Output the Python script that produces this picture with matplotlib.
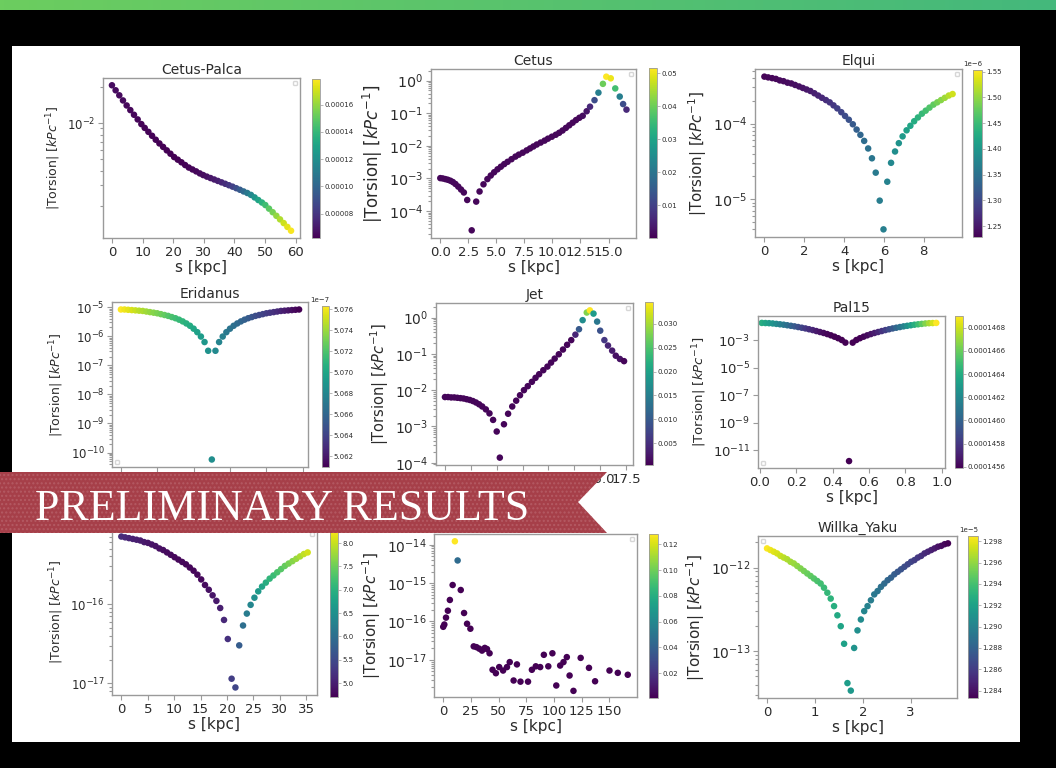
import numpy as np
import matplotlib.pyplot as plt
from matplotlib.colors import LinearSegmentedColormap
from matplotlib.patches import Rectangle, Polygon
from matplotlib.ticker import MultipleLocator, NullFormatter

W, H = 1056, 768

# ---------------- data (s in kpc, log10 |torsion|, colour value) ----------------
# Cetus-Palca
cp_s = [0.0, 1.2, 2.4, 3.6, 4.8, 6.0, 7.2, 8.4, 9.6, 10.7, 11.9, 13.1, 14.3, 15.5, 16.7,
        17.9, 19.1, 20.3, 21.5, 22.7, 23.9, 25.1, 26.3, 27.5, 28.7, 29.8, 31.0, 32.2, 33.4,
        34.6, 35.8, 37.0, 38.2, 39.4, 40.6, 41.8, 43.0, 44.2, 45.4, 46.6, 47.8, 49.0, 50.1,
        51.3, 52.5, 53.7, 54.9, 56.1, 57.3, 58.5]
cp_logt = [-1.684, -1.726, -1.768, -1.811, -1.853, -1.892, -1.931, -1.970, -2.009, -2.041,
           -2.074, -2.107, -2.140, -2.171, -2.200, -2.229, -2.257, -2.285, -2.307, -2.329,
           -2.352, -2.373, -2.389, -2.405, -2.422, -2.436, -2.449, -2.461, -2.473, -2.485,
           -2.497, -2.509, -2.521, -2.533, -2.546, -2.559, -2.573, -2.586, -2.602, -2.623,
           -2.645, -2.666, -2.687, -2.717, -2.747, -2.777, -2.807, -2.838, -2.870, -2.902]
cp_col = [6.6, 6.55, 6.5, 6.5, 6.45, 6.4, 6.4, 6.35, 6.3, 6.3, 6.3, 6.25, 6.25, 6.2, 6.2,
          6.2, 6.2, 6.2, 6.2, 6.2, 6.25, 6.3, 6.35, 6.4, 6.5, 6.6, 6.7, 6.85, 7.0, 7.2,
          7.45, 7.7, 8.0, 8.4, 8.9, 9.5, 10.2, 10.9, 11.6, 12.3, 13.0, 13.7, 14.3, 14.9,
          15.5, 16.0, 16.5, 17.0, 17.4, 17.8]  # x 1e-5

# Cetus
ce_s = [0.0, 0.22, 0.45, 0.67, 0.9, 1.12, 1.35, 1.6, 1.85, 2.1, 2.4, 2.8, 3.2, 3.5, 3.85,
        4.2, 4.5, 4.8, 5.1, 5.4, 5.7, 6.0, 6.35, 6.7, 7.0, 7.35, 7.7, 8.0, 8.3, 8.6, 8.95,
        9.3, 9.6, 9.95, 10.3, 10.6, 10.9, 11.2, 11.5, 11.8, 12.1, 12.4, 12.7, 13.05, 13.35,
        13.75, 14.1, 14.5, 14.8, 15.2, 15.6, 16.0, 16.3, 16.6]
ce_logt = [-2.99, -3.00, -3.02, -3.04, -3.07, -3.11, -3.17, -3.25, -3.34, -3.43, -3.66,
           -4.59, -3.71, -3.40, -3.18, -3.02, -2.91, -2.81, -2.72, -2.64, -2.56, -2.49,
           -2.41, -2.33, -2.27, -2.21, -2.14, -2.08, -2.02, -1.96, -1.90, -1.84, -1.78,
           -1.72, -1.66, -1.60, -1.53, -1.45, -1.37, -1.29, -1.21, -1.14, -1.08, -0.94,
           -0.80, -0.60, -0.37, -0.10, 0.12, 0.07, -0.24, -0.49, -0.72, -0.89]
ce_col = [0.001] * 42 + [0.002, 0.003, 0.006, 0.012, 0.022, 0.040, 0.0516, 0.050, 0.036,
                         0.022, 0.012, 0.006]

# Elqui
el_s = [0.0, 0.19, 0.39, 0.58, 0.77, 0.96, 1.16, 1.35, 1.54, 1.74, 1.93, 2.12, 2.31, 2.51,
        2.70, 2.89, 3.09, 3.28, 3.47, 3.66, 3.86, 4.05, 4.24, 4.44, 4.63, 4.82, 5.01, 5.21,
        5.40, 5.59, 5.79, 5.98, 6.17, 6.36, 6.56, 6.75, 6.94, 7.14, 7.33, 7.52, 7.71, 7.91,
        8.10, 8.29, 8.49, 8.68, 8.87, 9.06, 9.26, 9.45]
el_logt = [-3.38, -3.39, -3.40, -3.41, -3.43, -3.44, -3.46, -3.47, -3.49, -3.51, -3.53,
           -3.55, -3.57, -3.60, -3.63, -3.66, -3.69, -3.72, -3.76, -3.80, -3.85, -3.90,
           -3.95, -4.01, -4.08, -4.15, -4.23, -4.33, -4.46, -4.65, -5.02, -5.40, -4.77,
           -4.52, -4.37, -4.26, -4.17, -4.09, -4.03, -3.97, -3.92, -3.87, -3.83, -3.79,
           -3.75, -3.72, -3.69, -3.66, -3.63, -3.61]
el_col = [1.232, 1.233, 1.234, 1.235, 1.236, 1.237, 1.238, 1.240, 1.242, 1.244, 1.246,
          1.249, 1.252, 1.256, 1.260, 1.265, 1.270, 1.276, 1.282, 1.289, 1.296, 1.303,
          1.311, 1.319, 1.327, 1.335, 1.343, 1.350, 1.356, 1.361, 1.365, 1.368, 1.372,
          1.380, 1.388, 1.396, 1.404, 1.412, 1.420, 1.428, 1.437, 1.446, 1.455, 1.464,
          1.474, 1.484, 1.494, 1.505, 1.517, 1.530]  # x 1e-6

# Eridanus
er_s = [0.0, 0.1, 0.2, 0.3, 0.4, 0.5, 0.6, 0.7, 0.8, 0.9, 1.0, 1.1, 1.2, 1.3, 1.4, 1.5, 1.6,
        1.7, 1.8, 1.9, 2.0, 2.1, 2.2, 2.3, 2.4, 2.5, 2.6, 2.7, 2.8, 2.9, 3.0, 3.1, 3.2, 3.3,
        3.4, 3.5, 3.6, 3.7, 3.8, 3.9, 4.0, 4.1, 4.2, 4.3, 4.4, 4.5, 4.6, 4.7, 4.8, 4.9]
er_logt = [-5.08, -5.08, -5.09, -5.10, -5.11, -5.12, -5.13, -5.15, -5.17, -5.19, -5.21,
           -5.24, -5.27, -5.30, -5.34, -5.38, -5.43, -5.49, -5.56, -5.64, -5.74, -5.86,
           -6.01, -6.20, -6.50, -10.24, -6.50, -6.20, -6.01, -5.86, -5.74, -5.64, -5.56,
           -5.49, -5.43, -5.38, -5.34, -5.30, -5.27, -5.24, -5.21, -5.19, -5.17, -5.15,
           -5.13, -5.12, -5.11, -5.10, -5.09, -5.08]
er_col = [5.0763, 5.0760, 5.0757, 5.0754, 5.0751, 5.0747, 5.0744, 5.0741, 5.0738, 5.0735,
          5.0732, 5.0729, 5.0726, 5.0722, 5.0719, 5.0716, 5.0713, 5.0710, 5.0707, 5.0704,
          5.0701, 5.0697, 5.0694, 5.0691, 5.0688, 5.0685, 5.0682, 5.0679, 5.0676, 5.0672,
          5.0669, 5.0666, 5.0663, 5.0660, 5.0657, 5.0654, 5.0651, 5.0647, 5.0644, 5.0641,
          5.0638, 5.0635, 5.0632, 5.0629, 5.0626, 5.0622, 5.0619, 5.0616, 5.0613, 5.0610]  # x 1e-7

# Jet
jet_s = [0.0, 0.3, 0.6, 0.9, 1.2, 1.5, 1.8, 2.1, 2.4, 2.7, 3.0, 3.3, 3.6, 3.95, 4.3, 4.65,
         5.0, 5.3, 5.7, 6.1, 6.5, 6.88, 7.25, 7.63, 8.0, 8.4, 8.75, 9.1, 9.5, 9.9, 10.25,
         10.6, 11.0, 11.4, 11.8, 12.2, 12.6, 12.95, 13.3, 13.7, 14.0, 14.35, 14.7, 15.0,
         15.4, 15.75, 16.15, 16.5, 16.9, 17.3]
jet_logt = [-2.19, -2.19, -2.20, -2.20, -2.21, -2.22, -2.23, -2.25, -2.27, -2.30, -2.34,
            -2.39, -2.45, -2.53, -2.64, -2.82, -3.14, -3.86, -2.94, -2.65, -2.45, -2.29,
            -2.14, -2.00, -1.89, -1.77, -1.66, -1.56, -1.45, -1.35, -1.24, -1.13, -1.01,
            -0.88, -0.75, -0.62, -0.47, -0.32, -0.07, 0.14, 0.20, 0.11, -0.11, -0.36,
            -0.62, -0.77, -0.91, -1.05, -1.14, -1.20]
jet_col = [0.001] * 36 + [0.004, 0.010, 0.017, 0.028, 0.0345, 0.019, 0.014, 0.009, 0.006,
                          0.004, 0.003, 0.002, 0.002, 0.001]

# Pal15
pal_s = [0.01, 0.03, 0.05, 0.07, 0.09, 0.11, 0.13, 0.15, 0.17, 0.19, 0.21, 0.23, 0.25,
         0.27, 0.29, 0.31, 0.33, 0.35, 0.37, 0.39, 0.41, 0.43, 0.45, 0.47, 0.49, 0.51,
         0.53, 0.55, 0.57, 0.59, 0.61, 0.63, 0.65, 0.67, 0.69, 0.71, 0.73, 0.75, 0.77,
         0.79, 0.81, 0.83, 0.85, 0.87, 0.89, 0.91, 0.93, 0.95, 0.97]
pal_logt = [-1.75, -1.76, -1.77, -1.79, -1.82, -1.85, -1.88, -1.92, -1.96, -2.00, -2.05,
            -2.10, -2.15, -2.21, -2.27, -2.34, -2.41, -2.48, -2.56, -2.65, -2.75, -2.86,
            -2.99, -3.18, -11.77, -3.18, -2.99, -2.86, -2.75, -2.65, -2.56, -2.48, -2.41,
            -2.34, -2.27, -2.21, -2.15, -2.10, -2.05, -2.00, -1.96, -1.92, -1.88, -1.85,
            -1.82, -1.79, -1.77, -1.76, -1.75]
pal_col = [1.4640, 1.4636, 1.4632, 1.4627, 1.4622, 1.4617, 1.4612, 1.4607, 1.4601, 1.4596,
           1.4591, 1.4586, 1.4581, 1.4577, 1.4573, 1.4569, 1.4566, 1.4563, 1.4561, 1.4560,
           1.4559, 1.4559, 1.4559, 1.4559, 1.4559, 1.4559, 1.4559, 1.4560, 1.4561, 1.4563,
           1.4566, 1.4569, 1.4573, 1.4578, 1.4583, 1.4589, 1.4595, 1.4602, 1.4609, 1.4617,
           1.4625, 1.4633, 1.4641, 1.4649, 1.4657, 1.4665, 1.4673, 1.4681, 1.4690]  # x 1e-4
pal_yticks = [1e-11, 1e-9, 1e-7, 1e-5, 1e-3]

# bottom-left stream (title hidden by banner)
bl_s = [0.0, 0.72, 1.44, 2.16, 2.88, 3.6, 4.32, 5.04, 5.76, 6.48, 7.2, 7.92, 8.64, 9.36,
        10.08, 10.8, 11.52, 12.24, 12.96, 13.68, 14.4, 15.12, 15.84, 16.56, 17.28, 18.0,
        18.72, 19.44, 20.16, 20.88, 21.6, 22.32, 23.04, 23.76, 24.48, 25.2, 25.92, 26.64,
        27.36, 28.08, 28.8, 29.52, 30.24, 30.96, 31.68, 32.4, 33.12, 33.84, 34.56, 35.28]
bl_logt = [-15.15, -15.16, -15.17, -15.18, -15.19, -15.20, -15.22, -15.23, -15.25, -15.27,
           -15.30, -15.32, -15.35, -15.38, -15.41, -15.44, -15.47, -15.50, -15.54, -15.58,
           -15.63, -15.69, -15.76, -15.82, -15.89, -15.96, -16.05, -16.20, -16.44, -16.94,
           -17.05, -16.52, -16.27, -16.12, -16.01, -15.92, -15.84, -15.78, -15.73, -15.68,
           -15.64, -15.60, -15.56, -15.52, -15.49, -15.46, -15.43, -15.40, -15.37, -15.35]
bl_col = [5.15, 5.11, 5.07, 5.03, 5.00, 4.97, 4.94, 4.91, 4.89, 4.87, 4.85, 4.83, 4.81,
          4.79, 4.78, 4.77, 4.76, 4.75, 4.75, 4.75, 4.76, 4.78, 4.80, 4.85, 4.90, 4.95,
          5.00, 5.10, 5.20, 5.35, 5.45, 5.75, 6.00, 6.20, 6.35, 6.50, 6.65, 6.80, 6.95,
          7.05, 7.15, 7.25, 7.35, 7.45, 7.55, 7.65, 7.75, 7.85, 7.95, 8.05]

# bottom-middle stream (title hidden by banner)
bm_s = [0.0, 1.0, 2.5, 4.2, 6.0, 8.5, 10.5, 13.0, 15.8, 18.8, 21.5, 24.5, 27.5, 30.0, 32.5,
        35.0, 37.5, 39.5, 41.8, 44.5, 47.5, 50.5, 54.0, 57.5, 60.0, 63.5, 66.5, 69.7, 76.5,
        80.0, 83.5, 87.5, 90.8, 94.8, 98.5, 102.0, 105.5, 108.5, 111.5, 114.0, 117.5,
        124.0, 131.5, 137.0, 150.0, 157.5, 166.5]
bm_logt = [-16.14, -16.08, -15.90, -15.72, -15.44, -15.05, -13.91, -14.41, -15.18, -15.78,
           -16.06, -16.19, -16.65, -16.67, -16.71, -16.76, -16.69, -16.72, -16.83, -17.26,
           -17.35, -17.19, -17.28, -17.19, -17.06, -17.54, -17.12, -17.57, -17.57, -17.26,
           -17.17, -17.19, -16.87, -17.17, -16.83, -17.67, -17.15, -17.06, -16.93, -17.41,
           -17.81, -16.95, -17.21, -17.56, -17.28, -17.34, -17.39]
bm_col = [0.001] * 6 + [0.128, 0.045] + [0.001] * 39

# Willka_Yaku
wy_s = [0.0, 0.07, 0.14, 0.21, 0.28, 0.35, 0.42, 0.49, 0.56, 0.63, 0.70, 0.77, 0.84, 0.91,
        0.98, 1.05, 1.12, 1.19, 1.26, 1.33, 1.40, 1.47, 1.54, 1.61, 1.68, 1.75, 1.82, 1.89,
        1.96, 2.03, 2.10, 2.17, 2.24, 2.31, 2.38, 2.45, 2.52, 2.59, 2.66, 2.73, 2.80, 2.87,
        2.94, 3.01, 3.08, 3.15, 3.22, 3.29, 3.36, 3.43, 3.50, 3.57, 3.64, 3.71, 3.78]
wy_logt = [-11.77, -11.79, -11.81, -11.83, -11.86, -11.88, -11.90, -11.93, -11.95, -11.98,
           -12.01, -12.04, -12.07, -12.10, -12.13, -12.16, -12.19, -12.24, -12.30, -12.37,
           -12.46, -12.57, -12.70, -12.91, -13.38, -13.47, -12.96, -12.75, -12.62, -12.52,
           -12.46, -12.39, -12.32, -12.28, -12.23, -12.19, -12.15, -12.12, -12.08, -12.05,
           -12.02, -11.99, -11.96, -11.93, -11.91, -11.88, -11.86, -11.83, -11.81, -11.79,
           -11.77, -11.75, -11.74, -11.72, -11.71]
wy_col = [1.2984, 1.2981, 1.2978, 1.2976, 1.2973, 1.2970, 1.2967, 1.2964, 1.2962, 1.2959,
          1.2956, 1.2953, 1.2950, 1.2948, 1.2945, 1.2942, 1.2939, 1.2936, 1.2934, 1.2931,
          1.2928, 1.2925, 1.2922, 1.2920, 1.2917, 1.2914, 1.2911, 1.2908, 1.2906, 1.2903,
          1.2900, 1.2897, 1.2894, 1.2892, 1.2889, 1.2886, 1.2883, 1.2880, 1.2878, 1.2875,
          1.2872, 1.2869, 1.2866, 1.2864, 1.2861, 1.2858, 1.2855, 1.2852, 1.2850, 1.2847,
          1.2844, 1.2841, 1.2838, 1.2836, 1.2833]  # x 1e-5


def frac(x0, y0, x1, y1):
    """pixel box (top-left origin) -> figure fraction rect"""
    return [x0 / W, 1 - y1 / H, (x1 - x0) / W, (y1 - y0) / H]


# each pasted sub-figure on the slide has a slightly different scale -> own font sizes
panels = [
    dict(title="Cetus-Palca", s=cp_s, t=cp_logt, c=np.array(cp_col) * 1e-5, vr=(6.2e-5, 1.79e-4),
         box=(103, 78, 300, 238), cbox=(312, 79, 320, 238), step=10, leg="upper right",
         yl=9, yt=8.5),
    dict(title="Cetus", s=ce_s, t=ce_logt, c=ce_col, vr=(0.0001, 0.0516), xlim=(-0.83, 17.45),
         box=(431, 69, 636, 238), cbox=(649, 68, 657, 238), step=2.5, leg="upper right",
         yl=12, yt=10.3),
    dict(title="Elqui", s=el_s, t=el_logt, c=np.array(el_col) * 1e-6, vr=(1.229e-6, 1.553e-6),
         box=(755, 69, 962, 237), cbox=(973, 70, 982, 237), step=2, leg="upper right",
         yl=10.8, yt=10.3),
    dict(title="Eridanus", s=er_s, t=er_logt, c=np.array(er_col) * 1e-7, vr=(5.0610e-7, 5.0763e-7),
         box=(112, 302, 308, 467), cbox=(322, 306, 329, 467), step=1, leg="lower left",
         yl=9, yt=8.5),
    dict(title="Jet", s=jet_s, t=jet_logt, c=jet_col, vr=(0.0005, 0.0345),
         box=(436, 303, 633, 465), cbox=(645, 302, 653, 465), step=2.5, leg="upper right",
         yl=10.5, yt=10),
    dict(title="Pal15", s=pal_s, t=pal_logt, c=np.array(pal_col) * 1e-4, vr=(1.4559e-4, 1.4690e-4),
         xlim=(-0.011, 1.018), yticks=pal_yticks, box=(758, 316, 945, 468),
         cbox=(955, 316, 963, 468), step=0.2, leg="lower left", yl=9.5, yt=9.5),
    dict(title="", s=bl_s, t=bl_logt, c=bl_col, vr=(4.7, 8.3),
         box=(112, 529, 317, 695), cbox=(330, 529, 338, 697), step=5, leg="upper right",
         yl=9, yt=8.5),
    dict(title="", s=bm_s, t=bm_logt, c=bm_col, vr=(0.0008, 0.128), ylim=(10 ** -17.97, 10 ** -13.72),
         box=(434, 534, 637, 697), cbox=(649, 534, 658, 698), step=25, leg="upper right",
         yl=11, yt=10),
    dict(title="Willka_Yaku", s=wy_s, t=wy_logt, c=np.array(wy_col) * 1e-5, vr=(1.2833e-5, 1.2985e-5),
         box=(758, 536, 957, 698), cbox=(968, 536, 978, 698), step=1, leg="upper left",
         yl=11, yt=10),
]

TXT = "#2b2b2b"
SPINE = "#9a9a9a"

fig = plt.figure(figsize=(W / 100, H / 100), dpi=100, facecolor="black")

# green strip at top
grad = LinearSegmentedColormap.from_list("strip", ["#6ccd5f", "#44b87c"])
ax_strip = fig.add_axes(frac(0, 0, W, 10))
ax_strip.imshow(np.linspace(0, 1, 256)[None, :], aspect="auto", cmap=grad)
ax_strip.axis("off")

# white slide panel behind the figure grid
fig.patches.append(Rectangle((12 / W, 1 - 742 / H), 1008 / W, 696 / H,
                             transform=fig.transFigure, facecolor="white",
                             edgecolor="none", zorder=-10))

for p in panels:
    ax = fig.add_axes(frac(*p["box"]))
    sc = ax.scatter(p["s"], 10.0 ** np.asarray(p["t"]), c=p["c"], cmap="viridis",
                    vmin=p["vr"][0], vmax=p["vr"][1], s=22, linewidths=0)
    ax.set_yscale("log")
    if "xlim" in p:
        ax.set_xlim(*p["xlim"])
    if "ylim" in p:
        ax.set_ylim(*p["ylim"])
    if "yticks" in p:
        ax.set_yticks(p["yticks"])
    ax.xaxis.set_major_locator(MultipleLocator(p["step"]))
    ax.yaxis.set_minor_formatter(NullFormatter())
    ax.tick_params(which="both", colors=SPINE, labelcolor=TXT, width=0.8)
    ax.tick_params(axis="x", labelsize=9.5, pad=2)
    ax.tick_params(axis="y", labelsize=p["yt"], pad=2)
    for sp in ax.spines.values():
        sp.set_color(SPINE)
        sp.set_linewidth(1.0)
    ax.set_xlabel("s [kpc]", fontsize=11, color=TXT, labelpad=1)
    ax.set_ylabel(r"|Torsion| [$kPc^{-1}$]", fontsize=p["yl"], color=TXT, labelpad=3)
    if p["title"]:
        ax.set_title(p["title"], fontsize=10, color=TXT, pad=3)
    ax.legend(handles=[], labels=[], loc=p["leg"], fontsize=4, borderpad=0.4,
              framealpha=0.8, edgecolor="0.8")

    cax = fig.add_axes(frac(*p["cbox"]))
    cb = fig.colorbar(sc, cax=cax)
    cb.ax.tick_params(labelsize=5, length=2, width=0.5, colors=SPINE, labelcolor=TXT, pad=1)
    cb.ax.yaxis.get_offset_text().set_fontsize(5)
    cb.ax.yaxis.get_offset_text().set_color(TXT)
    cb.outline.set_edgecolor(SPINE)
    cb.outline.set_linewidth(0.6)

# "PRELIMINARY RESULTS" ribbon
ribbon = [(0, 472), (607, 472), (578, 502), (607, 533), (0, 533)]
fig.patches.append(Polygon([(x / W, 1 - y / H) for x, y in ribbon], closed=True,
                           transform=fig.transFigure, facecolor="#a63f49",
                           edgecolor="#b45a63", hatch="....", linewidth=0, zorder=10))
fig.text(35 / W, 1 - 520 / H, "PRELIMINARY RESULTS", color="white", fontsize=31.7,
         family="Liberation Serif", ha="left", va="baseline", zorder=12)

fig.savefig("out.png", dpi=100, facecolor="black")
